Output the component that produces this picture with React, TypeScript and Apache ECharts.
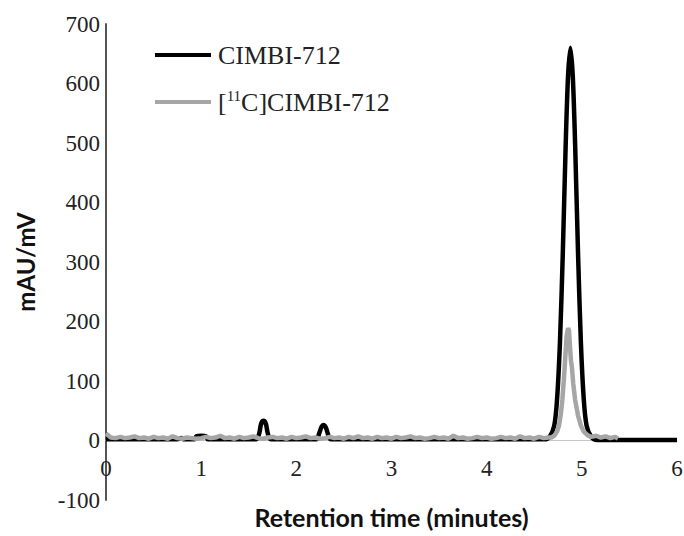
import React, { useEffect, useRef } from "react";
import * as echarts from "echarts";

// Retention time (minutes) / signal (mAU or mV) pairs
const xTicks = [0, 1, 2, 3, 4, 5, 6];
const yTicks = [-100, 0, 100, 200, 300, 400, 500, 600, 700];

const seriesNames = ["CIMBI-712", "[11C]CIMBI-712"];

// UV trace of the reference standard CIMBI-712
const standardTrace: [number, number][] = [
  [0, 2], [0.75, 2], [0.79, 4], [0.82, 2],
  [0.93, 2], [0.95, 7], [1.0, 8], [1.05, 7], [1.07, 2],
  [1.58, 2], [1.61, 12], [1.63, 28], [1.655, 33], [1.68, 28], [1.7, 12], [1.73, 2],
  [2.21, 2], [2.24, 12], [2.265, 23], [2.285, 26], [2.31, 22], [2.33, 12], [2.36, 2],
  [4.61, 2], [4.66, 6], [4.71, 25], [4.74, 70], [4.77, 165], [4.8, 315], [4.83, 495],
  [4.855, 612], [4.88, 660], [4.905, 612], [4.93, 495], [4.96, 315], [4.99, 165],
  [5.02, 70], [5.05, 25], [5.1, 6], [5.16, 1], [6.0, 1],
];

// Radio trace of [11C]CIMBI-712
const tracerTrace: [number, number][] = [
  [0.0, 12], [0.05, 5], [0.1, 4], [0.15, 6], [0.2, 4], [0.25, 5], [0.3, 7], [0.35, 4],
  [0.4, 5], [0.45, 3], [0.5, 6], [0.55, 4], [0.6, 5], [0.65, 3], [0.7, 7], [0.75, 4],
  [0.8, 3], [0.85, 5], [0.9, 4], [0.95, 3], [1.0, 4], [1.05, 6], [1.1, 4], [1.15, 5],
  [1.2, 8], [1.25, 4], [1.3, 5], [1.35, 3], [1.4, 6], [1.45, 4], [1.5, 5], [1.55, 7],
  [1.6, 4], [1.65, 3], [1.7, 5], [1.75, 6], [1.8, 4], [1.85, 5], [1.9, 3], [1.95, 6],
  [2.0, 4], [2.05, 5], [2.1, 7], [2.15, 4], [2.2, 5], [2.25, 3], [2.3, 4], [2.35, 6],
  [2.4, 4], [2.45, 5], [2.5, 3], [2.55, 6], [2.6, 4], [2.65, 7], [2.7, 4], [2.75, 5],
  [2.8, 3], [2.85, 6], [2.9, 4], [2.95, 5], [3.0, 3], [3.05, 6], [3.1, 4], [3.15, 5],
  [3.2, 7], [3.25, 4], [3.3, 5], [3.35, 3], [3.4, 4], [3.45, 6], [3.5, 4], [3.55, 5],
  [3.6, 3], [3.65, 8], [3.7, 4], [3.75, 5], [3.8, 3], [3.85, 4], [3.9, 6], [3.95, 4],
  [4.0, 5], [4.05, 3], [4.1, 4], [4.15, 6], [4.2, 4], [4.25, 5], [4.3, 3], [4.35, 7],
  [4.4, 4], [4.45, 5], [4.5, 3], [4.55, 6], [4.6, 4], [4.65, 5], [4.68, 5],
  [4.71, 8], [4.74, 15], [4.76, 25], [4.78, 45], [4.795, 68], [4.81, 100], [4.82, 124],
  [4.83, 150], [4.84, 175], [4.855, 189], [4.865, 185], [4.875, 160], [4.885, 135],
  [4.895, 124], [4.91, 95], [4.93, 68], [4.96, 42], [4.99, 25], [5.02, 15], [5.06, 9],
  [5.1, 6], [5.15, 8], [5.2, 5], [5.25, 7], [5.3, 4], [5.35, 6], [5.38, 3],
];

const serif = "'Liberation Serif', 'Times New Roman', serif";
const sans = "Lato, 'Liberation Sans', sans-serif";

export default function App() {
  const ref = useRef<HTMLDivElement>(null);
  useEffect(() => {
    if (!ref.current) return;
    const chart = echarts.init(ref.current, undefined, { renderer: "svg" });
    chart.setOption({
      animation: false,
      backgroundColor: "#ffffff",
      grid: {
        left: 106,
        right: 7,
        top: 24,
        bottom: 36,
        containLabel: false,
        outerBoundsMode: "none",
      },
      legend: {
        orient: "vertical",
        left: 150,
        top: 36,
        icon: "rect",
        itemWidth: 56,
        itemHeight: 4,
        itemGap: 19,
        data: seriesNames,
        formatter: (name: string) =>
          name === "[11C]CIMBI-712" ? "[{sup|11}C]CIMBI-712" : name,
        textStyle: {
          fontFamily: serif,
          fontSize: 26,
          color: "#222",
          lineHeight: 28,
          padding: [0, 0, 0, 2],
          rich: {
            sup: { fontFamily: serif, fontSize: 15, color: "#222", verticalAlign: "top", lineHeight: 20 },
          },
        },
      },
      xAxis: {
        type: "value",
        position: "bottom",
        offset: -59.5,
        min: xTicks[0],
        max: xTicks[xTicks.length - 1],
        interval: 1,
        axisLine: { onZero: false, lineStyle: { color: "#c4c4c4", width: 1 } },
        axisTick: { show: false },
        splitLine: { show: false },
        axisLabel: { fontFamily: serif, fontSize: 23, color: "#222", margin: 16 },
        name: "Retention time (minutes)",
        nameLocation: "middle",
        nameGap: 64,
        nameTextStyle: { fontFamily: sans, fontWeight: "bold", fontSize: 25, color: "#111" },
      },
      yAxis: {
        type: "value",
        min: yTicks[0],
        max: yTicks[yTicks.length - 1],
        interval: 100,
        axisLine: { show: true, onZero: false, lineStyle: { color: "#555", width: 2 } },
        axisTick: { show: false },
        splitLine: { show: false },
        axisLabel: { fontFamily: serif, fontSize: 23, color: "#222", margin: 6 },
        name: "mAU/mV",
        nameLocation: "middle",
        nameGap: 69,
        nameTextStyle: { fontFamily: sans, fontWeight: "bold", fontSize: 24, color: "#111" },
      },
      series: [
        {
          name: seriesNames[0],
          type: "line",
          data: standardTrace,
          showSymbol: false,
          smooth: 0.3,
          lineStyle: { color: "#000", width: 4.5 },
          itemStyle: { color: "#000" },
          z: 2,
        },
        {
          name: seriesNames[1],
          type: "line",
          data: tracerTrace,
          showSymbol: false,
          lineStyle: { color: "#a6a6a6", width: 4.5 },
          itemStyle: { color: "#a6a6a6" },
          z: 3,
        },
      ],
    });
    return () => chart.dispose();
  }, []);
  return (
    <div
      ref={ref}
      style={{ position: "fixed", left: 0, top: 0, width: 684, height: 536, background: "#fff" }}
    />
  );
}
